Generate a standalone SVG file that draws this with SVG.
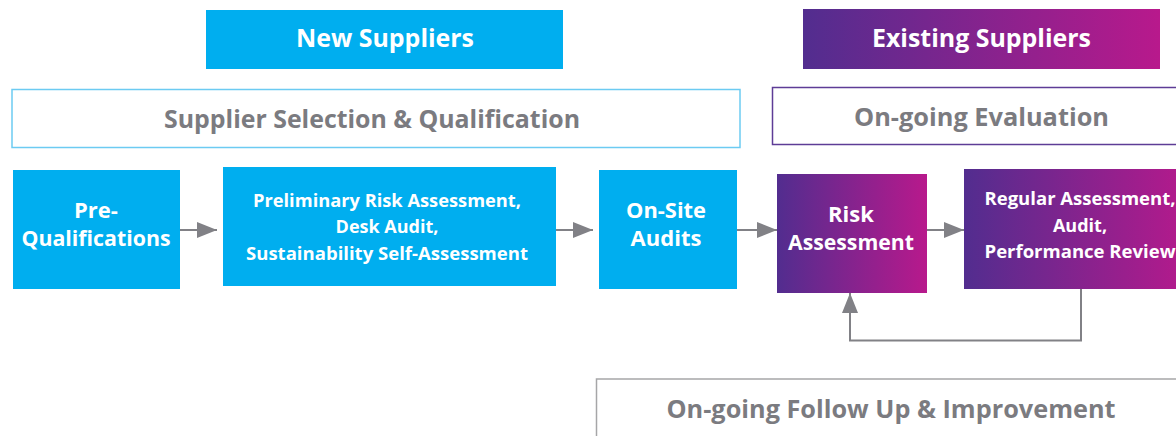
<svg xmlns="http://www.w3.org/2000/svg" width="1176" height="436" viewBox="0 0 1176 436">
<defs>
<linearGradient id="pg" x1="0" y1="0" x2="1" y2="0">
<stop offset="0" stop-color="#522D8F"/>
<stop offset="1" stop-color="#B8198C"/>
</linearGradient>
<marker id="ah" viewBox="0 0 20 16" refX="20" refY="8" markerWidth="20" markerHeight="16" markerUnits="userSpaceOnUse" orient="auto">
<path d="M0,0 L20,8 L0,16 Z" fill="#818186"/>
</marker>
<style>
.cy{fill:#00AEEF}
.pu{fill:url(#pg)}
.wt{fill:#fff;font-family:"Open Sans","Liberation Sans",sans-serif;font-weight:700;text-anchor:middle}
.gt{fill:#7B7B80;font-family:"Open Sans","Liberation Sans",sans-serif;font-weight:700;text-anchor:middle;font-size:25px}
.ln{fill:none;stroke:#818186;stroke-width:2}
</style>
</defs>
<rect width="1176" height="436" fill="#fff"/>
<g id="new-suppliers">
<rect class="cy" x="206" y="10" width="357" height="59"/>
<text class="wt" x="385" y="47" font-size="25" textLength="178" lengthAdjust="spacingAndGlyphs">New Suppliers</text>
</g>
<g id="existing-suppliers">
<rect class="pu" x="803" y="9" width="357" height="60"/>
<text class="wt" x="981.5" y="47" font-size="25" textLength="219" lengthAdjust="spacingAndGlyphs">Existing Suppliers</text>
</g>
<g id="selection">
<rect x="12" y="89.5" width="728" height="58" fill="#fff" stroke="#6CCBF2" stroke-width="1.5"/>
<text class="gt" x="372" y="128" textLength="416" lengthAdjust="spacingAndGlyphs">Supplier Selection &amp; Qualification</text>
</g>
<g id="evaluation">
<rect x="772.5" y="87.5" width="420" height="57" fill="#fff" stroke="#5E3C96" stroke-width="1.5"/>
<text class="gt" x="981.5" y="126" textLength="255" lengthAdjust="spacingAndGlyphs">On-going Evaluation</text>
</g>
<g id="followup">
<rect x="596.5" y="379" width="600" height="80" fill="#fff" stroke="#A6A6A8" stroke-width="1.5"/>
<text class="gt" x="891" y="418" textLength="449" lengthAdjust="spacingAndGlyphs">On-going Follow Up &amp; Improvement</text>
</g>
<g id="pre-qualifications">
<rect class="cy" x="13" y="170" width="167" height="119"/>
<text class="wt" x="96" y="218" font-size="22">Pre-</text>
<text class="wt" x="96" y="246" font-size="22" textLength="149" lengthAdjust="spacingAndGlyphs">Qualifications</text>
</g>
<g id="preliminary">
<rect class="cy" x="223" y="167" width="333" height="119"/>
<text class="wt" x="387" y="207" font-size="18" textLength="268" lengthAdjust="spacingAndGlyphs">Preliminary Risk Assessment,</text>
<text class="wt" x="387" y="233" font-size="18">Desk Audit,</text>
<text class="wt" x="387" y="260" font-size="18" textLength="282" lengthAdjust="spacingAndGlyphs">Sustainability Self-Assessment</text>
</g>
<g id="onsite">
<rect class="cy" x="599" y="170" width="138" height="119"/>
<text class="wt" x="666" y="218" font-size="22" textLength="80" lengthAdjust="spacingAndGlyphs">On-Site</text>
<text class="wt" x="666" y="246" font-size="22">Audits</text>
</g>
<g id="risk">
<rect class="pu" x="777" y="174" width="150" height="119"/>
<text class="wt" x="851" y="222" font-size="22">Risk</text>
<text class="wt" x="851" y="250" font-size="22" textLength="126" lengthAdjust="spacingAndGlyphs">Assessment</text>
</g>
<g id="regular">
<rect class="pu" x="964" y="169" width="230" height="120"/>
<text class="wt" x="1080" y="205" font-size="18" textLength="191" lengthAdjust="spacingAndGlyphs">Regular Assessment,</text>
<text class="wt" x="1080" y="232" font-size="18">Audit,</text>
<text class="wt" x="1080" y="258" font-size="18" textLength="191" lengthAdjust="spacingAndGlyphs">Performance Review</text>
</g>
<g id="connectors">
<line class="ln" x1="180" y1="230" x2="217" y2="230" marker-end="url(#ah)"/>
<line class="ln" x1="556" y1="230" x2="593" y2="230" marker-end="url(#ah)"/>
<line class="ln" x1="737" y1="230" x2="777" y2="230" marker-end="url(#ah)"/>
<line class="ln" x1="927" y1="230" x2="964" y2="230" marker-end="url(#ah)"/>
<polyline class="ln" points="1081,289 1081,340.5 850,340.5 850,293" marker-end="url(#ah)"/>
</g>
</svg>
